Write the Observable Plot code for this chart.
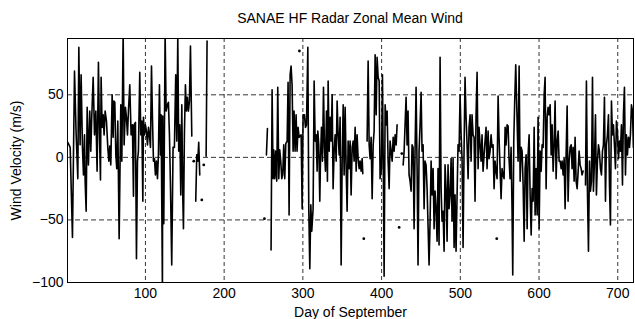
<!DOCTYPE html>
<html><head><meta charset="utf-8">
<script src="https://cdn.jsdelivr.net/npm/d3@7"></script>
<script src="https://cdn.jsdelivr.net/npm/@observablehq/plot@0.6"></script>
<style>
body{margin:0;background:#fff;font-family:"Liberation Sans",Arial,sans-serif;}
#title{box-sizing:border-box;width:566px;margin-left:67px;height:28px;padding-top:8px;line-height:20px;font-size:14px;text-align:center;color:#000;}
</style></head>
<body>
<div id="title">SANAE HF Radar Zonal Mean Wind</div>
<div id="chart"></div>
<script>
const titleText = "SANAE HF Radar Zonal Mean Wind";
const xLabel = "Day of September";
const yLabel = "Wind Velocity (m/s)";
const xTicks = [100, 200, 300, 400, 500, 600, 700];
const yTicks = [-100, -50, 0, 50];

// hourly-ish samples; null wind = data gap
const hours = [
1.4,4.4,7.3,9.9,12,14.1,15.4,17,18.3,20,21.3,22.6,23.4,24.7,26,27.6,29.3,30.6,31.9,33.6,35.3,37,38.6,40.3,41.6,42.9,43.7,45,46.3,47.5,48.8,50.5,52.2,53.5,54.7,56,57.7,59,59.8,61.1,62.4,63.6,64.9,66.6,68.7,70,71.7,72.9,74.6,75.9,77.2,78.4,80.1,81.8,83.5,84.8,85.6,87.3,88.6,89.9,91.1,92.8,94.1,95.4,96.7,97.5,98.8,100,101.3,102.6,103.9,105.1,106.4,107.7,108.9,110.2,111.5,112.7,114,115.3,116.5,117.8,119.1,119.9,121.6,
122,123.3,125,126.3,127.9,129.2,130.5,131.8,133.4,135.1,136.8,138.5,139.8,141.1,142.3,143.6,144.9,146.2,147.4,148.3,149.5,150.8,152.1,153.3,154.6,155.9,157.2,158.9,160,
163.9,165.2,166.5,167.7,169,170,
177.1,178.3,200,
253.7,255,257,
259.6,260.9,262.2,263,264.3,265.5,266.8,268.1,269.4,270.6,271.9,273.2,274.4,275.7,277,278.3,280,281.2,282.5,283.8,285,286.3,287.6,288.8,290.1,291.4,292.6,293.9,295.2,
297.8,299.1,300.3,302,303.3,304.6,306.3,307.5,308.8,310.1,311.3,313,314.3,315.6,316.9,318.1,319,320.2,321.5,322.4,323.6,324.9,326.2,327.4,328.7,330,331.2,332.1,333.4,334.6,335.9,337.2,338.4,339.7,341,342.3,343.5,344.8,346.1,347.3,348.6,349.9,351.2,352.4,353.7,355,356.2,357.5,358.8,360,361.3,362.6,363.9,365.1,366.4,367.7,368.9,370.2,371.5,372.7,374,375.3,376.1,378,
381.6,382.9,384.2,385.4,386.7,388,389.3,390.5,391.8,393.1,394.3,395.6,396.9,398.1,399.8,401.1,402.4,403.2,404.5,405.8,407,408.3,409.6,410.8,412.1,413.4,414.7,415.9,417.2,418.5,419.7,421,
427.4,428.6,
431.1,432.4,433.6,434.9,436.2,437.5,438.7,440,441.3,442.5,443.8,445.1,446.3,447.6,448.9,450.2,451.4,452.7,454,455.2,456.5,457.8,459,460.3,461.6,462.9,464.1,465.4,466.7,467.9,469.2,470.5,471.7,473,474.3,475.6,476.8,478.1,479.4,480.6,481.9,483.2,484.4,485.7,487,488.3,489.5,490.8,492.1,493.3,494.6,495.9,497.1,498.4,499.7,501,502.2,503.5,504.8,506,507.3,508.6,509.9,511.1,512.4,513.7,514.9,516.2,517.5,518.7,520,521.3,522.6,523.8,525.1,526.4,527.6,528.9,530.2,531.4,532.7,534,535.3,536.5,537.8,539.1,540.3,541.6,542.9,544.1,545.4,546.7,548,549.2,550.5,551.8,553,554.3,555.6,556.9,558.1,559.4,560.7,561.9,563.2,564.5,565.7,566.6,567.9,569.1,570.4,
573.4,574.7,576,577.3,578.5,579.8,581.1,582.3,583.6,584.9,586.1,587.4,588.7,590,591.2,592.5,593.8,595,596.3,597.6,598.8,600.1,601.4,602.7,603.9,605.2,606.5,607.7,609,610.3,611.5,612.8,614.1,615.4,616.6,617.9,619.2,620.4,621.7,623,624.3,625.5,626.8,628.1,629.3,630.6,631.9,633.1,634.4,635.7,636.9,638.2,639.5,640.8,642,643.3,644.6,645.8,647.1,648.4,649.7,650.9,652.2,653.5,654.7,656,657.5,
659,660.2,661.5,662.8,664.1,665.3,666.6,667.9,669.1,670.4,671.7,672.9,674.2,675.5,676.7,678,679.3,680.6,681.8,683.1,684.4,685.6,686.9,688.2,689.5,690.7,692,693.3,694.5,695.8,697.1,698.3,699.6,700.9,702.2,703.4,704.7,706,707.2,708.5,709.8,711,712.3,713.6,714.9,716.1,717.4,718.7,719.9
];
const wind = [
12,8,-64,69,18,-17,88,10,66,8,-14,18,-19,-43,40,-6,37,5,34,64,18,37,-11,76,18,-18,64,24,34,18,37,29,8,-3,9,-6,50,16,45,44,2,-9,29,-65,42,-3,100,10,40,32,18,37,58,18,26,-31,26,28,-81,-3,5,68,18,29,-35,32,18,26,21,10,24,18,8,73,32,-3,-1,-14,-3,-17,2,58,2,34,-105,
33,-53,100,37,42,44,18,-22,-86,8,8,66,13,96,5,26,-30,42,-30,-57,18,58,37,48,37,45,89,17,null,
-35,2,-3,12,-14,null,
1,93,null,
2,23,null,
-74,54,-17,6,-17,5,-19,56,-17,6,-3,-17,-14,10,-17,11,13,60,-46,66,73,58,5,37,5,34,5,24,16,
18,-41,34,34,24,26,88,-41,-89,-38,-59,-41,61,13,18,-11,21,10,-35,-1,24,-3,56,8,-11,37,-19,61,5,32,13,50,-25,5,18,-3,45,18,2,32,-86,-3,42,-14,40,-9,-43,13,-9,13,-30,8,13,-3,24,-11,18,-1,-9,-3,-11,-1,-13,null,
13,77,10,-1,16,-33,10,21,82,34,80,64,61,-17,-9,66,-25,-95,42,26,37,-3,-25,13,5,-3,16,5,18,10,26,null,
-6,5,
48,10,37,-14,-19,-27,10,8,-57,5,56,-9,-86,5,26,52,5,10,-41,-3,-6,-25,-54,-86,-51,-3,-30,-9,-57,-27,-41,-67,-9,-70,80,-25,-51,-43,-75,-6,-25,-67,-6,-41,-30,-1,-51,-1,-72,-30,-75,-30,10,5,50,18,-1,-72,8,64,32,10,-17,24,34,-3,34,18,16,-35,34,68,-9,24,10,-3,18,-11,2,13,24,-9,21,-1,5,18,8,10,-25,-3,-11,-17,49,16,-9,-33,-9,-14,-17,24,10,26,25,-1,-17,8,-41,-94,13,45,74,
-3,73,-19,8,5,-22,-67,-9,2,-57,2,18,-30,-62,-25,-35,24,-46,-9,-46,32,-57,5,-11,10,8,50,64,-25,32,40,34,42,2,26,-11,10,45,-17,13,21,-3,-3,-9,-3,-14,-1,-41,2,41,-35,-3,8,10,-9,8,-19,16,-19,-25,-11,5,-6,-9,-14,-11,null,
-22,61,-27,-75,-3,-27,-19,64,-27,-3,34,-30,-3,10,5,-9,-14,5,10,48,-35,10,18,34,-22,-54,45,18,26,10,-9,29,21,-1,13,5,26,-22,34,56,-14,18,2,16,8,18,42,37,8
];
const dotHours = [161.4, 171.6, 174.1, 251.2, 295.6, 377.4, 422.3, 425.7, 546.3];
const dotWind = [-3, -34, -6, -49, 85, -65, -56, 3, -65];

const series = hours.map((h, i) => ({h, w: wind[i]}));
const dots = dotHours.map((h, i) => ({h, w: dotWind[i]}));

const chart = Plot.plot({
  width: 635,
  height: 291,
  marginTop: 10,
  marginBottom: 37,
  marginLeft: 67,
  marginRight: 2,
  style: {fontFamily: '"Liberation Sans", Arial, sans-serif', fontSize: "14px", color: "#000", background: "#fff"},
  x: {domain: [1, 720]},
  y: {domain: [-100, 95]},
  marks: [
    Plot.ruleX(xTicks, {stroke: "#000", strokeWidth: 0.8, strokeDasharray: "4,3"}),
    Plot.ruleY(yTicks.filter(d => d > -100), {stroke: "#000", strokeWidth: 0.8, strokeDasharray: "5,3"}),
    Plot.line(series, {x: "h", y: "w", stroke: "#000", strokeWidth: 1.6, clip: true}),
    Plot.dot(dots, {x: "h", y: "w", r: 1.4, fill: "#000", stroke: null}),
    Plot.frame({stroke: "#000", strokeWidth: 1}),
    Plot.axisX(xTicks, {tickSize: 0, tickPadding: 6, label: xLabel, labelAnchor: "center", labelOffset: 34, labelArrow: "none", fontSize: 14}),
    Plot.axisY(yTicks, {tickSize: 0, tickPadding: 4, label: yLabel, labelAnchor: "center", labelOffset: 56, labelArrow: "none", fontSize: 14})
  ]
});
document.getElementById("chart").appendChild(chart);
</script>
</body></html>
